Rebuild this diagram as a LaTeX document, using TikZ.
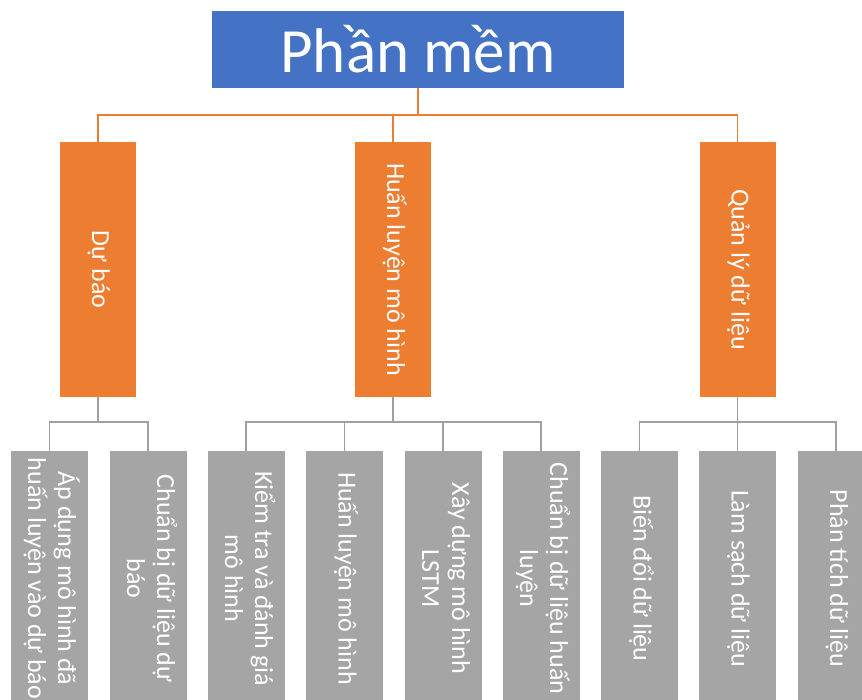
\documentclass[tikz,border=0pt]{standalone}
\usepackage{fontspec}
\setmainfont{Carlito}
\definecolor{cblue}{HTML}{4472C4}
\definecolor{corange}{HTML}{ED7D31}
\definecolor{cgrey}{HTML}{A5A5A5}
\definecolor{cgline}{HTML}{A0A0A0}
\newcommand{\vtext}[1]{\rotatebox{-90}{\begin{tabular}{@{}c@{}}#1\end{tabular}}}
\tikzset{
  topbox/.style={fill=cblue, text=white, minimum width=412pt, minimum height=77pt, inner sep=0pt,
    font=\fontsize{63}{69}\selectfont},
  midbox/.style={fill=corange, text=white, minimum width=76pt, minimum height=255pt, inner sep=0pt,
    font=\fontsize{26}{30}\selectfont},
  leafbox/.style={fill=cgrey, text=white, minimum width=77pt, minimum height=255pt, inner sep=0pt,
    font=\fontsize{26}{30}\selectfont},
  oline/.style={draw=corange, line width=1.6pt},
  gline/.style={draw=cgline, line width=1.6pt},
}
\begin{document}
\begin{tikzpicture}[x=1pt, y=-1pt]
\useasboundingbox (0,0) rectangle (862,700);
\fill[white] (0,0) rectangle (862,700);
\begin{scope}
\clip (0,0) rectangle (862,700);
\node[topbox] (top) at (418,49.5) {Phần mềm};
\node[midbox] (db) at (98,269.5) {\vtext{Dự báo}};
\node[midbox] (hl) at (393,269.5) {\vtext{Huấn luyện mô hình}};
\node[midbox] (ql) at (737.5,269.5) {\vtext{Quản lý dữ liệu}};

\node[leafbox] (a1) at (49.5,578.5) {\vtext{Áp dụng mô hình đã\\ huấn luyện vào dự báo}};
\node[leafbox] (a2) at (148,578.5) {\vtext{Chuẩn bị dữ liệu dự\\ báo}};
\node[leafbox] (b1) at (246,578.5) {\vtext{Kiểm tra và đánh giá\\ mô hình}};
\node[leafbox] (b2) at (344.5,578.5) {\vtext{Huấn luyện mô hình}};
\node[leafbox] (b3) at (443,578.5) {\vtext{Xây dựng mô hình\\ LSTM}};
\node[leafbox] (b4) at (541,578.5) {\vtext{Chuẩn bị dữ liệu huấn\\ luyện}};
\node[leafbox] (c1) at (639.5,578.5) {\vtext{Biến đổi dữ liệu}};
\node[leafbox] (c2) at (737.5,578.5) {\vtext{Làm sạch dữ liệu}};
\node[leafbox] (c3) at (836,578.5) {\vtext{Phân tích dữ liệu}};

\coordinate (bus0) at (0,115);
\coordinate (bus1) at (0,422);

\draw[oline] (top.south) -- (top.south |- bus0);
\draw[oline] (db.north) -- (db.north |- bus0) -- (ql.north |- bus0) -- (ql.north);
\draw[oline] (hl.north) -- (hl.north |- bus0);

\draw[gline] (db.south) -- (db.south |- bus1);
\draw[gline] (a1.north) -- (a1.north |- bus1) -- (a2.north |- bus1) -- (a2.north);

\draw[gline] (hl.south) -- (hl.south |- bus1);
\draw[gline] (b1.north) -- (b1.north |- bus1) -- (b4.north |- bus1) -- (b4.north);
\draw[gline] (b2.north) -- (b2.north |- bus1);
\draw[gline] (b3.north) -- (b3.north |- bus1);

\draw[gline] (ql.south) -- (ql.south |- bus1);
\draw[gline] (c1.north) -- (c1.north |- bus1) -- (c3.north |- bus1) -- (c3.north);
\draw[gline] (c2.north) -- (c2.north |- bus1);
\end{scope}
\end{tikzpicture}
\end{document}
